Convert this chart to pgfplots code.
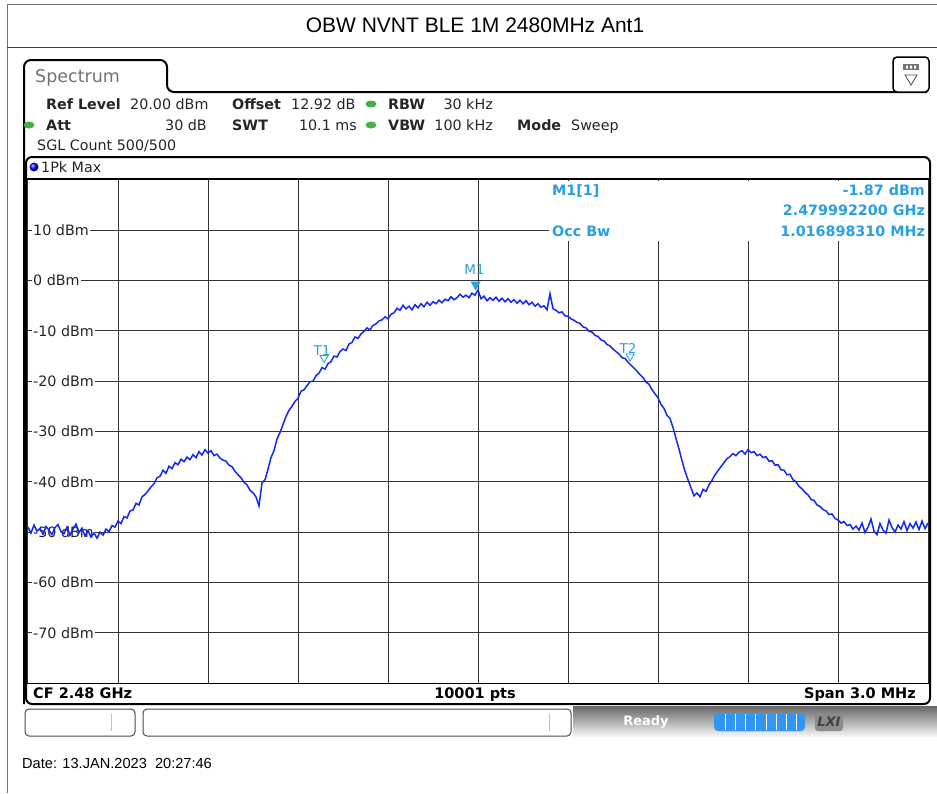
\documentclass[border=0pt]{standalone}
\usepackage{fontspec}
\setmainfont{DejaVu Sans}
\newfontfamily\arial{Liberation Sans}
\usepackage{pgfplots}
\pgfplotsset{compat=1.18}
\definecolor{trace}{RGB}{20,40,245}
\definecolor{mk}{RGB}{40,160,225}
\definecolor{led}{RGB}{70,175,70}
\definecolor{prog}{RGB}{50,150,245}
\begin{document}
\begin{tikzpicture}[x=1pt,y=1pt]
\path[use as bounding box,fill=white] (0,0) rectangle (937,-793);
% page frame
\draw[black!55,line width=1pt] (7,-793) -- (7,-4) -- (937,-4);
\draw[black!75,line width=1pt] (7,-47) -- (937,-47);
\node[anchor=center] at (475,-25) {\arial\fontsize{21}{24}\selectfont OBW NVNT BLE 1M 2480MHz Ant1};
% spectrum tab and window
\draw[line width=2pt,rounded corners=7pt] (24,-704) -- (24,-60) -- (167,-60) -- (167,-92) -- (927,-92);
\node[anchor=base west,inner sep=0pt,text=black!55] at (35,-82) {\fontsize{17.5}{20}\selectfont Spectrum};
\draw[line width=1.5pt,rounded corners=4pt,fill=white] (893,-57) rectangle (929,-92);
\fill[black!55] (903,-64) rectangle (919,-70);
\fill[white] (906,-65.5) rectangle (908,-68.5) (910,-65.5) rectangle (912,-68.5) (914,-65.5) rectangle (916,-68.5);
\draw[black!70,line width=0.8pt] (905,-75) -- (917,-75) -- (911,-85) -- cycle;
% info text
\begin{scope}[every node/.style={anchor=base west,inner sep=0pt,text=black!85,font=\fontsize{14.3}{16}\selectfont}]
\node at (46,-109) {\bfseries Ref Level};
\node at (130,-109) {20.00 dBm};
\node at (232,-109) {\bfseries Offset};
\node at (291,-109) {12.92 dB};
\node at (388,-109) {\bfseries RBW};
\node[anchor=base east] at (493,-109) {30 kHz};
\node at (46,-130) {\bfseries Att};
\node[anchor=base east] at (207,-130) {30 dB};
\node at (232,-130) {\bfseries SWT};
\node[anchor=base east] at (357,-130) {10.1 ms};
\node at (388,-130) {\bfseries VBW};
\node[anchor=base east] at (493,-130) {100 kHz};
\node at (517,-130) {\bfseries Mode};
\node at (571,-130) {Sweep};
\node at (37,-150) {SGL Count 500/500};
\node at (41,-172) {1Pk Max};
\end{scope}
\fill[led] (371,-104) ellipse (5.5 and 3.5);
\fill[led] (371,-125) ellipse (5.5 and 3.5);
\fill[led] (29,-125) ellipse (5.5 and 3.5);
\shade[ball color=blue] (34,-167) circle (4.5);
% panel frame
\draw[line width=2pt,rounded corners=6pt] (26,-157) rectangle (930,-704);
\draw[line width=1.5pt] (26,-179) -- (930,-179);
\draw[line width=1.5pt] (26,-683.5) -- (930,-683.5);
\begin{axis}[at={(28pt,-683pt)},anchor=south west,scale only axis,
  width=900pt,height=503pt,
  xmin=-1500,xmax=1500,ymin=-80,ymax=20,
  xtick={-1500,-1200,...,1500},ytick={-70,-60,...,10},
  xticklabels={},yticklabels={},
  major tick length=0pt,
  grid=major,major grid style={black!80,line width=1pt},
  axis line style={draw=none},clip=false]
\foreach \v/\t in {10/10 dBm,0/0 dBm,-10/-10 dBm,-20/-20 dBm,-30/-30 dBm,-40/-40 dBm,-50/-50 dBm,-60/-60 dBm,-70/-70 dBm}{
  \edef\temp{\noexpand\node[anchor=west,fill=white,inner xsep=1pt,inner ysep=2pt,text=black!85,font=\noexpand\fontsize{14.3}{16}\noexpand\selectfont] at (axis cs:-1500,\v) [xshift=4pt] {\t};}
  \temp
}
\addplot[trace,line width=1.5pt] coordinates {
(-1500,-49.0) (-1490,-50.2) (-1480,-48.6) (-1470,-49.8) (-1460,-49.3) (-1450,-50.4) (-1440,-48.9) (-1430,-49.6) (-1420,-50.5) (-1410,-49.1)
(-1400,-48.5) (-1390,-49.9) (-1380,-50.3) (-1370,-49.0) (-1360,-50.6) (-1350,-49.4) (-1340,-48.4) (-1330,-50.1) (-1320,-49.2) (-1310,-50.8)
(-1300,-49.7) (-1290,-51.0) (-1280,-50.2) (-1270,-51.2) (-1260,-50.0) (-1250,-50.6) (-1240,-49.4) (-1230,-49.9) (-1220,-48.7) (-1210,-49.0)
(-1200,-47.8) (-1190,-48.3) (-1180,-46.9) (-1170,-47.2) (-1160,-45.8) (-1150,-45.6) (-1140,-44.3) (-1130,-44.6) (-1120,-43.0) (-1110,-42.5)
(-1100,-41.8) (-1090,-41.0) (-1080,-40.4) (-1070,-39.2) (-1060,-38.9) (-1050,-37.7) (-1040,-38.3) (-1030,-36.9) (-1020,-37.4) (-1010,-36.2)
(-1000,-36.6) (-990,-35.5) (-980,-36.0) (-970,-35.1) (-960,-35.6) (-950,-34.6) (-940,-35.2) (-930,-34.0) (-920,-34.7) (-910,-33.6)
(-900,-34.3) (-890,-33.8) (-880,-34.8) (-870,-34.5) (-860,-35.3) (-850,-35.7) (-840,-35.9) (-830,-36.7) (-820,-37.0) (-810,-37.9)
(-800,-38.6) (-790,-39.2) (-780,-40.1) (-770,-40.6) (-760,-41.7) (-750,-42.2) (-740,-43.0) (-730,-44.8) (-720,-40.2) (-710,-39.6)
(-700,-37.5) (-690,-35.2) (-680,-33.8) (-670,-31.5) (-660,-30.2) (-650,-28.6) (-640,-27.0) (-630,-25.8) (-620,-25.0) (-610,-24.0)
(-600,-23.4) (-590,-22.0) (-580,-21.7) (-570,-20.9) (-560,-20.1) (-550,-20.0) (-540,-18.9) (-530,-18.4) (-520,-17.3) (-510,-17.6)
(-500,-16.5) (-490,-16.1) (-480,-15.0) (-470,-15.2) (-460,-14.1) (-450,-13.6) (-440,-13.9) (-430,-12.6) (-420,-12.3) (-410,-11.2)
(-400,-11.5) (-390,-10.6) (-380,-10.1) (-370,-9.4) (-360,-9.8) (-350,-8.9) (-340,-8.6) (-330,-8.0) (-320,-7.8) (-310,-7.2)
(-300,-7.6) (-290,-6.7) (-280,-6.4) (-270,-5.5) (-260,-5.9) (-250,-4.9) (-240,-5.6) (-230,-5.1) (-220,-5.8) (-210,-4.8)
(-200,-5.4) (-190,-4.6) (-180,-5.2) (-170,-4.3) (-160,-4.9) (-150,-4.2) (-140,-4.6) (-130,-3.9) (-120,-4.4) (-110,-3.7)
(-100,-4.0) (-90,-3.2) (-80,-3.8) (-70,-3.4) (-60,-2.7) (-50,-3.3) (-40,-2.9) (-30,-3.4) (-20,-2.5) (-10,-2.9)
(0,-1.9) (10,-3.6) (20,-3.1) (30,-4.0) (40,-3.4) (50,-3.9) (60,-3.3) (70,-4.1) (80,-3.5) (90,-4.2)
(100,-3.6) (110,-4.3) (120,-3.8) (130,-4.5) (140,-3.9) (150,-4.6) (160,-4.0) (170,-4.8) (180,-4.3) (190,-5.1)
(200,-4.6) (210,-5.3) (220,-5.0) (230,-5.8) (240,-2.6) (250,-5.6) (260,-5.9) (270,-6.4) (280,-6.2) (290,-7.0)
(300,-7.1) (310,-7.6) (320,-7.9) (330,-8.3) (340,-8.5) (350,-9.2) (360,-9.4) (370,-10.1) (380,-10.2) (390,-10.9)
(400,-11.1) (410,-11.8) (420,-12.0) (430,-12.7) (440,-13.0) (450,-13.6) (460,-14.1) (470,-14.6) (480,-15.3) (490,-15.5)
(500,-16.2) (510,-16.8) (520,-17.4) (530,-18.0) (540,-18.7) (550,-19.3) (560,-20.2) (570,-20.6) (580,-21.7) (590,-22.5)
(600,-23.3) (610,-24.6) (620,-25.4) (630,-26.8) (640,-27.4) (650,-29.2) (660,-31.4) (670,-33.5) (680,-35.8) (690,-37.9)
(700,-39.6) (710,-41.2) (720,-42.8) (730,-42.2) (740,-43.0) (750,-41.5) (760,-41.9) (770,-40.6) (780,-39.7) (790,-38.6)
(800,-37.8) (810,-37.0) (820,-36.2) (830,-35.4) (840,-35.0) (850,-34.4) (860,-34.8) (870,-34.1) (880,-33.8) (890,-34.5)
(900,-33.6) (910,-34.2) (920,-34.0) (930,-34.8) (940,-34.5) (950,-35.2) (960,-35.0) (970,-35.9) (980,-35.8) (990,-36.7)
(1000,-36.6) (1010,-37.6) (1020,-37.7) (1030,-38.6) (1040,-38.5) (1050,-39.6) (1060,-40.0) (1070,-40.9) (1080,-41.4) (1090,-42.1)
(1100,-42.6) (1110,-43.5) (1120,-43.7) (1130,-44.6) (1140,-44.9) (1150,-45.5) (1160,-45.8) (1170,-46.5) (1180,-46.4) (1190,-47.3)
(1200,-47.6) (1210,-48.2) (1220,-47.9) (1230,-48.7) (1240,-48.5) (1250,-49.4) (1260,-48.8) (1270,-49.6) (1280,-48.2) (1290,-50.1)
(1300,-49.0) (1310,-47.4) (1320,-49.8) (1330,-50.5) (1340,-48.3) (1350,-49.6) (1360,-50.2) (1370,-47.6) (1380,-49.1) (1390,-50.0)
(1400,-48.6) (1410,-49.4) (1420,-47.9) (1430,-49.7) (1440,-48.3) (1450,-49.2) (1460,-48.0) (1470,-49.5) (1480,-47.8) (1490,-49.3)
(1500,-48.2)
};
% markers
\fill[mk] (axis cs:-7.8,-2.0) -- ++(-5pt,9pt) -- ++(10pt,0pt) -- cycle;
\node[text=mk,font=\fontsize{13.5}{15}\selectfont] at (axis cs:-12,2.2) {M1};
\draw[mk,line width=0.8pt] (axis cs:-513,-16.3) -- ++(-4pt,7pt) -- ++(8pt,0pt) -- cycle;
\node[text=mk,font=\fontsize{13.5}{15}\selectfont] at (axis cs:-520,-14.0) {T1};
\draw[mk,line width=0.8pt] (axis cs:507,-16.0) -- ++(-4pt,7pt) -- ++(8pt,0pt) -- cycle;
\node[text=mk,font=\fontsize{13.5}{15}\selectfont] at (axis cs:500,-13.4) {T2};
\end{axis}
% marker info box
\fill[white] (549,-180.5) rectangle (928,-241);
\begin{scope}[every node/.style={inner sep=0pt,text=mk,font=\bfseries\fontsize{14.3}{16}\selectfont}]
\node[anchor=base west] at (552,-195.5) {M1[1]};
\node[anchor=base east] at (925,-195.5) {-1.87 dBm};
\node[anchor=base east] at (925,-215.5) {2.479992200 GHz};
\node[anchor=base west] at (552,-236.5) {Occ Bw};
\node[anchor=base east] at (925,-236.5) {1.016898310 MHz};
\end{scope}
% bottom bar
\begin{scope}[every node/.style={inner sep=0pt,text=black,font=\bfseries\fontsize{14.5}{16}\selectfont}]
\node[anchor=base west] at (33,-698) {CF 2.48 GHz};
\node[anchor=base] at (475,-698) {10001 pts};
\node[anchor=base east] at (916,-698) {Span 3.0 MHz};
\end{scope}
% status bar
\shade[top color=black!60,bottom color=white] (573,-706) rectangle (937,-738);
\draw[black!70,line width=1pt,rounded corners=4pt] (25,-709) rectangle (135,-736);
\draw[black!25,line width=1pt] (111,-714) -- (111,-731);
\draw[black!70,line width=1pt,rounded corners=4pt] (143,-709) rectangle (571,-736);
\draw[black!25,line width=1pt] (549,-714) -- (549,-731);
\node[text=white,font=\bfseries\fontsize{13}{15}\selectfont] at (646,-722) {Ready};
\fill[prog,rounded corners=4pt] (714,-713) rectangle (805,-731);
\foreach \s in {725,735,745,755,766,776,786,796}{\draw[white,line width=0.8pt] (\s,-714) -- (\s,-730);}
\fill[black!45,rounded corners=3pt] (815,-713) rectangle (843,-731);
\node[text=black!75,font=\bfseries\itshape\fontsize{13}{15}\selectfont] at (829,-722) {LXI};
% date
\node[anchor=base west,inner sep=0pt] at (22,-768) {\arial\fontsize{14.6}{16}\selectfont Date: 13.JAN.2023\ \ 20:27:46};
\end{tikzpicture}
\end{document}
